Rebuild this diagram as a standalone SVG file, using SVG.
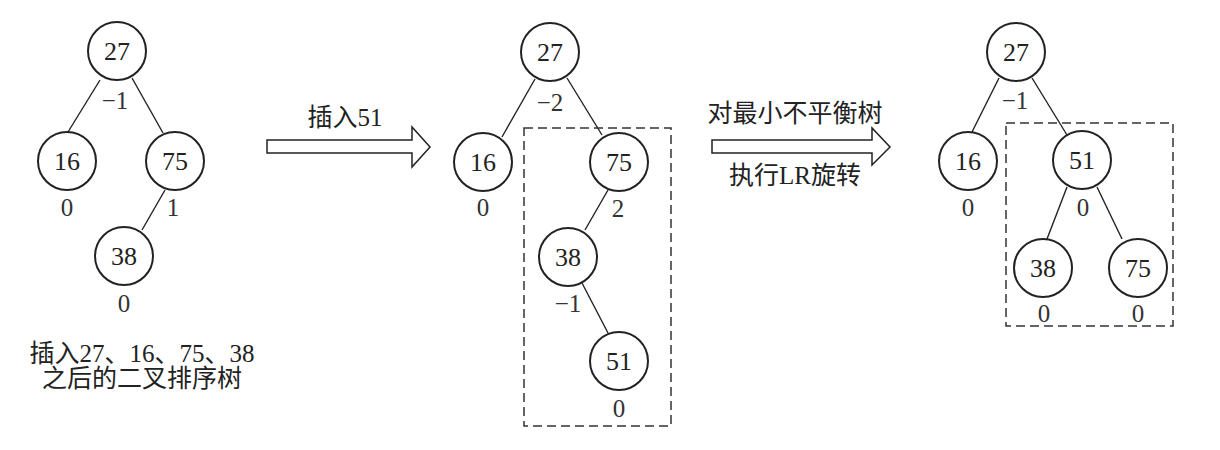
<svg xmlns="http://www.w3.org/2000/svg" width="1220" height="450" viewBox="0 0 1220 450">
<style>
text{font-family:"Liberation Serif","Noto Sans CJK SC",serif;fill:#222;text-anchor:middle;dominant-baseline:central}
.n circle{fill:#fff;stroke:#222;stroke-width:2}
.n text{font-size:26px}
.b{font-size:25px;fill:#333}
.cap{font-size:25px}
.e line{stroke:#222;stroke-width:1.4}
.box{fill:none;stroke:#333;stroke-width:1.5;stroke-dasharray:9 5}
.arr{fill:#fff;stroke:#222;stroke-width:1.5}
</style>
<rect width="1220" height="450" fill="#fff"/>
<g id="connectors" class="e">
<line x1="100" y1="80" x2="68" y2="132"/>
<line x1="132" y1="78" x2="163" y2="133"/>
<line x1="165" y1="190" x2="142" y2="230"/>
<line x1="535" y1="79" x2="502" y2="137"/>
<line x1="567" y1="78" x2="602" y2="135"/>
<line x1="608" y1="190" x2="585" y2="230"/>
<line x1="582" y1="283" x2="608" y2="333"/>
<line x1="999" y1="78" x2="972" y2="132"/>
<line x1="1032" y1="78" x2="1067" y2="135"/>
<line x1="1067" y1="187" x2="1047" y2="239"/>
<line x1="1097" y1="187" x2="1122" y2="239"/>
</g>
<g id="tree1">
<g id="t1-27" class="n"><circle cx="117" cy="51" r="29"/><text x="117" y="51">27</text></g>
<g id="t1-16" class="n"><circle cx="67" cy="161" r="29"/><text x="67" y="161">16</text></g>
<g id="t1-75" class="n"><circle cx="175" cy="161" r="29"/><text x="175" y="161">75</text></g>
<g id="t1-38" class="n"><circle cx="124" cy="256" r="29"/><text x="124" y="256">38</text></g>
<text class="b" x="115" y="100">−1</text>
<text class="b" x="67" y="207">0</text>
<text class="b" x="173" y="207">1</text>
<text class="b" x="124" y="303">0</text>
<text class="cap" x="142" y="353">插入27、16、75、38</text>
<text class="cap" x="142" y="378">之后的二叉排序树</text>
</g>
<g id="arrow1">
<polygon class="arr" points="267,140 412,140 412,127 430,147 412,167 412,153 267,153"/>
<text class="cap" x="345" y="117">插入51</text>
</g>
<g id="tree2">
<rect class="box" x="524" y="128" width="147" height="298"/>
<g id="t2-27" class="n"><circle cx="550" cy="52" r="29"/><text x="550" y="52">27</text></g>
<g id="t2-16" class="n"><circle cx="483" cy="162" r="29"/><text x="483" y="162">16</text></g>
<g id="t2-75" class="n"><circle cx="619" cy="162" r="29"/><text x="619" y="162">75</text></g>
<g id="t2-38" class="n"><circle cx="568" cy="257" r="29"/><text x="568" y="257">38</text></g>
<g id="t2-51" class="n"><circle cx="619" cy="361" r="29"/><text x="619" y="361">51</text></g>
<text class="b" x="550" y="102">−2</text>
<text class="b" x="483" y="207">0</text>
<text class="b" x="618" y="208">2</text>
<text class="b" x="568" y="303">−1</text>
<text class="b" x="619" y="408">0</text>
</g>
<g id="arrow2">
<polygon class="arr" points="712,140 872,140 872,128 890,147 872,165 872,153 712,153"/>
<text class="cap" x="795" y="113">对最小不平衡树</text>
<text class="cap" x="795" y="175">执行LR旋转</text>
</g>
<g id="tree3">
<rect class="box" x="1006" y="123" width="167" height="203"/>
<g id="t3-27" class="n"><circle cx="1016" cy="52" r="29"/><text x="1016" y="52">27</text></g>
<g id="t3-16" class="n"><circle cx="968" cy="161" r="29"/><text x="968" y="161">16</text></g>
<g id="t3-51" class="n"><circle cx="1082" cy="160" r="29"/><text x="1082" y="160">51</text></g>
<g id="t3-38" class="n"><circle cx="1043" cy="268" r="29"/><text x="1043" y="268">38</text></g>
<g id="t3-75" class="n"><circle cx="1138" cy="268" r="29"/><text x="1138" y="268">75</text></g>
<text class="b" x="1015" y="100">−1</text>
<text class="b" x="968" y="207">0</text>
<text class="b" x="1083" y="207">0</text>
<text class="b" x="1044" y="313">0</text>
<text class="b" x="1138" y="313">0</text>
</g>
</svg>
